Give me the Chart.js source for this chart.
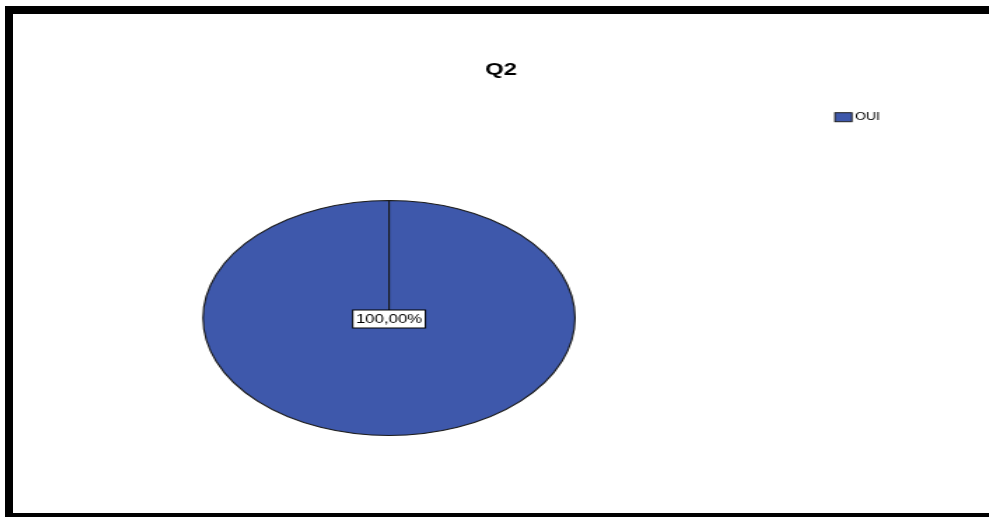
<!DOCTYPE html>
<html><head><meta charset="utf-8">
<script src="https://cdn.jsdelivr.net/npm/chart.js@4/dist/chart.umd.min.js"></script>
<style>
html,body{margin:0;padding:0;background:#fff;overflow:hidden;width:989px;height:517px;}
#frame{position:absolute;left:5px;top:6px;width:1100px;height:499px;border-left:8px solid #000;border-top:8px solid #000;border-bottom:4px solid #000;}
#wrap{position:absolute;left:13px;top:14px;width:697px;height:499px;transform:scaleX(1.4);transform-origin:0 0;}
</style></head><body>
<div id="frame"></div>
<div id="wrap"><canvas id="c"></canvas></div>
<script>
const chartTitle = 'Q2';
const categories = ['OUI'];
const values = [100];
const sliceColors = ['#3e58ab'];

const FONT = "'Liberation Sans', Arial, sans-serif";
const SX = 1.1307;          // extra horizontal stretch of the pie (ellipse)
const PIE_RIGHT_SPACE = 159.8;

const layoutShift = {
  id: 'layoutShift',
  afterLayout(chart) {
    chart.chartArea.left = 0;
    chart.chartArea.right = chart.width - PIE_RIGHT_SPACE;
    chart.chartArea.width = chart.chartArea.right - chart.chartArea.left;
  }
};

const ellipse = {
  id: 'ellipse',
  beforeDatasetsDraw(chart) {
    const arc = chart.getDatasetMeta(0).data[0];
    const ctx = chart.ctx;
    ctx.save();
    ctx.translate(arc.x, arc.y);
    ctx.scale(SX, 1);
    ctx.translate(-arc.x, -arc.y);
  },
  afterDatasetsDraw(chart) {
    const ctx = chart.ctx;
    ctx.restore();
    const meta = chart.getDatasetMeta(0);
    const total = values.reduce((a, b) => a + b, 0);
    meta.data.forEach((arc, i) => {
      const pct = (values[i] / total * 100).toFixed(2).replace('.', ',') + '%';
      let x = arc.x, y = arc.y;
      if (arc.circumference < Math.PI * 2 - 1e-6) {
        const p = arc.tooltipPosition();
        x = arc.x + (p.x - arc.x) * SX; y = p.y;
      }
      ctx.save();
      ctx.font = '12px ' + FONT;
      const w = ctx.measureText(pct).width + 4.5;
      const h = 18;
      y += 1;
      ctx.fillStyle = '#fff';
      ctx.fillRect(x - w / 2, y - h / 2, w, h);
      ctx.strokeStyle = '#000';
      ctx.lineWidth = 1;
      ctx.strokeRect(x - w / 2, y - h / 2, w, h);
      ctx.fillStyle = '#000';
      ctx.textAlign = 'center';
      ctx.textBaseline = 'middle';
      ctx.fillText(pct, x, y + 0.5);
      ctx.restore();
    });
  }
};

const legendDraw = {
  id: 'legendDraw',
  afterDraw(chart) {
    const ctx = chart.ctx;
    ctx.save();
    categories.forEach((cat, i) => {
      const bx = 587.1, by = 98.7 + i * 16;
      ctx.fillStyle = sliceColors[i];
      ctx.fillRect(bx, by, 12.1, 9);
      ctx.strokeStyle = '#222';
      ctx.lineWidth = 1;
      ctx.strokeRect(bx, by, 12.1, 9);
      ctx.fillStyle = '#000';
      ctx.font = '10px ' + FONT;
      ctx.textBaseline = 'middle';
      ctx.textAlign = 'left';
      ctx.fillText(cat, bx + 14.3, by + 4.8);
    });
    ctx.restore();
  }
};

new Chart(document.getElementById('c'), {
  type: 'pie',
  data: {
    labels: categories,
    datasets: [{
      data: values,
      backgroundColor: sliceColors,
      borderColor: '#1a1a1a',
      borderWidth: 1,
      radius: 117.5
    }]
  },
  options: {
    responsive: true,
    maintainAspectRatio: false,
    animation: false,
    events: [],
    layout: { padding: 0 },
    plugins: {
      legend: { display: false },
      tooltip: { enabled: false },
      title: {
        display: true,
        text: chartTitle,
        color: '#000',
        font: { size: 17, weight: 'bold', family: FONT },
        padding: { top: 46.3, bottom: 42.3 }
      }
    }
  },
  plugins: [layoutShift, ellipse, legendDraw]
});
</script>
</body></html>
